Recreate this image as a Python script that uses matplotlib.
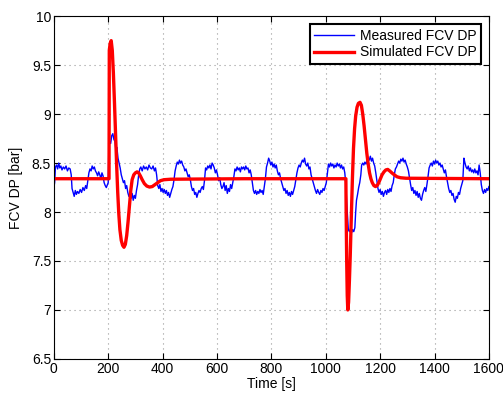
import matplotlib
matplotlib.use('Agg')
import matplotlib.pyplot as plt
from matplotlib.ticker import MultipleLocator, FuncFormatter

plt.rcParams.update({
    "font.family": ["Liberation Sans", "DejaVu Sans"],
    "font.size": 10,
})

# Measured FCV DP
meas_t = [0, 3, 6, 10, 14, 18, 22, 26, 30, 35, 40, 45, 50, 55, 60, 64, 67, 71, 75, 79,
          83, 87, 92, 97, 102, 107, 112, 117, 121, 125, 129, 133, 137, 141, 145, 149, 153, 157, 161, 165,
          169, 173, 177, 181, 185, 189, 193, 197, 200, 202, 205, 209, 213, 217, 221, 225, 228, 232, 236, 240,
          244, 248, 252, 256, 260, 264, 268, 272, 276, 280, 284, 288, 292, 296, 300, 304, 308, 312, 316, 320,
          325, 330, 335, 340, 345, 350, 355, 360, 365, 370, 374, 378, 382, 386, 390, 394, 398, 402, 406, 410,
          414, 418, 422, 426, 430, 434, 438, 442, 446, 450, 454, 458, 462, 466, 470, 474, 478, 482, 486, 490,
          494, 498, 502, 506, 510, 514, 518, 522, 526, 530, 534, 538, 542, 546, 550, 554, 558, 562, 566, 570,
          574, 578, 582, 586, 590, 594, 598, 602, 606, 610, 614, 618, 622, 626, 630, 634, 638, 642, 646, 650,
          654, 658, 662, 666, 670, 674, 678, 682, 686, 690, 694, 698, 702, 706, 710, 714, 718, 722, 726, 730,
          734, 738, 742, 746, 750, 754, 758, 762, 766, 770, 774, 778, 782, 786, 790, 794, 798, 802, 806, 810,
          814, 818, 822, 826, 830, 834, 838, 842, 846, 850, 854, 858, 862, 866, 870, 874, 878, 882, 886, 890,
          894, 898, 902, 906, 910, 914, 918, 922, 926, 930, 934, 938, 942, 946, 950, 954, 958, 962, 966, 970,
          974, 978, 982, 986, 990, 994, 998, 1002, 1006, 1010, 1014, 1018, 1022, 1026, 1030, 1034, 1038, 1042, 1046, 1050,
          1054, 1058, 1062, 1066, 1070, 1074, 1077, 1080, 1083, 1087, 1091, 1095, 1099, 1103, 1107, 1110, 1113, 1117, 1121, 1125,
          1129, 1132, 1136, 1140, 1144, 1148, 1152, 1156, 1160, 1164, 1168, 1172, 1176, 1180, 1184, 1188, 1192, 1196, 1200, 1204,
          1208, 1212, 1216, 1220, 1224, 1228, 1232, 1236, 1240, 1244, 1248, 1252, 1256, 1260, 1264, 1268, 1272, 1276, 1280, 1284,
          1288, 1292, 1296, 1300, 1304, 1308, 1312, 1316, 1320, 1324, 1328, 1332, 1336, 1340, 1344, 1348, 1352, 1356, 1360, 1364,
          1368, 1372, 1376, 1380, 1384, 1388, 1392, 1396, 1400, 1404, 1408, 1412, 1416, 1420, 1424, 1428, 1432, 1436, 1440, 1444,
          1448, 1452, 1456, 1460, 1464, 1468, 1472, 1476, 1480, 1484, 1488, 1492, 1496, 1500, 1504, 1508, 1512, 1516, 1520, 1524,
          1528, 1532, 1536, 1540, 1544, 1548, 1552, 1556, 1560, 1564, 1568, 1572, 1576, 1580, 1584, 1588, 1592, 1596, 1600]
meas_v = [8.25, 8.30, 8.46, 8.48, 8.44, 8.50, 8.45, 8.47, 8.43, 8.46, 8.44, 8.47, 8.42, 8.45, 8.44, 8.38, 8.24, 8.20, 8.16, 8.22,
          8.18, 8.21, 8.19, 8.23, 8.20, 8.25, 8.22, 8.27, 8.24, 8.32, 8.40, 8.44, 8.42, 8.47, 8.44, 8.46, 8.42, 8.40, 8.37, 8.41,
          8.38, 8.34, 8.40, 8.37, 8.30, 8.27, 8.25, 8.28, 8.30, 8.62, 8.72, 8.70, 8.78, 8.80, 8.74, 8.72, 8.64, 8.66, 8.55, 8.50,
          8.45, 8.38, 8.34, 8.30, 8.32, 8.24, 8.27, 8.20, 8.16, 8.18, 8.14, 8.19, 8.12, 8.17, 8.14, 8.22, 8.28, 8.38, 8.44, 8.46,
          8.42, 8.47, 8.44, 8.46, 8.43, 8.48, 8.45, 8.44, 8.47, 8.42, 8.45, 8.38, 8.27, 8.24, 8.28, 8.21, 8.24, 8.20, 8.23, 8.19,
          8.22, 8.17, 8.20, 8.15, 8.19, 8.23, 8.26, 8.33, 8.42, 8.47, 8.51, 8.49, 8.53, 8.50, 8.52, 8.48, 8.46, 8.42, 8.44, 8.40,
          8.36, 8.38, 8.33, 8.26, 8.22, 8.24, 8.18, 8.20, 8.15, 8.19, 8.22, 8.20, 8.24, 8.26, 8.23, 8.32, 8.45, 8.43, 8.47, 8.45,
          8.48, 8.44, 8.50, 8.48, 8.45, 8.40, 8.43, 8.38, 8.32, 8.35, 8.28, 8.24, 8.26, 8.30, 8.22, 8.27, 8.19, 8.24, 8.21, 8.28,
          8.24, 8.30, 8.36, 8.44, 8.42, 8.46, 8.43, 8.45, 8.41, 8.46, 8.44, 8.46, 8.43, 8.47, 8.44, 8.45, 8.40, 8.43, 8.38, 8.30,
          8.22, 8.19, 8.22, 8.18, 8.21, 8.19, 8.23, 8.20, 8.22, 8.18, 8.26, 8.34, 8.46, 8.50, 8.55, 8.52, 8.48, 8.51, 8.46, 8.49,
          8.45, 8.48, 8.42, 8.38, 8.40, 8.34, 8.30, 8.26, 8.22, 8.24, 8.19, 8.22, 8.17, 8.20, 8.16, 8.21, 8.18, 8.22, 8.26, 8.33,
          8.40, 8.45, 8.48, 8.46, 8.50, 8.53, 8.51, 8.55, 8.49, 8.47, 8.50, 8.44, 8.46, 8.38, 8.34, 8.30, 8.26, 8.22, 8.19, 8.23,
          8.20, 8.18, 8.22, 8.20, 8.24, 8.22, 8.26, 8.30, 8.40, 8.49, 8.46, 8.50, 8.47, 8.49, 8.45, 8.48, 8.46, 8.50, 8.47, 8.49,
          8.45, 8.48, 8.44, 8.46, 8.40, 8.28, 8.10, 7.95, 7.82, 7.80, 7.83, 7.79, 7.82, 7.80, 7.84, 8.00, 8.12, 8.18, 8.25, 8.30,
          8.38, 8.48, 8.50, 8.48, 8.51, 8.49, 8.52, 8.55, 8.53, 8.57, 8.52, 8.55, 8.50, 8.47, 8.40, 8.32, 8.24, 8.20, 8.23, 8.18,
          8.21, 8.16, 8.20, 8.22, 8.18, 8.23, 8.20, 8.24, 8.21, 8.27, 8.30, 8.38, 8.44, 8.46, 8.49, 8.52, 8.50, 8.54, 8.52, 8.55,
          8.51, 8.53, 8.49, 8.46, 8.42, 8.35, 8.28, 8.22, 8.25, 8.19, 8.22, 8.17, 8.21, 8.15, 8.19, 8.14, 8.12, 8.18, 8.22, 8.25,
          8.21, 8.28, 8.36, 8.45, 8.48, 8.50, 8.47, 8.52, 8.49, 8.53, 8.50, 8.52, 8.48, 8.50, 8.46, 8.48, 8.44, 8.40, 8.43, 8.36,
          8.30, 8.24, 8.20, 8.22, 8.17, 8.19, 8.13, 8.10, 8.16, 8.14, 8.20, 8.18, 8.24, 8.28, 8.32, 8.55, 8.50, 8.46, 8.44, 8.47,
          8.42, 8.45, 8.41, 8.43, 8.40, 8.44, 8.40, 8.42, 8.38, 8.48, 8.40, 8.28, 8.22, 8.19, 8.23, 8.20, 8.24, 8.22, 8.26]

# Simulated FCV DP
sim_t = [0, 200, 203, 204, 207, 211, 215, 219, 223, 227, 231, 235, 239, 243, 248, 253, 258, 263, 268, 273,
         278, 283, 288, 294, 300, 306, 312, 318, 325, 333, 342, 352, 362, 372, 382, 392, 405, 430, 700, 1074,
         1075, 1077, 1079, 1081, 1084, 1087, 1090, 1094, 1098, 1102, 1106, 1110, 1115, 1120, 1126, 1131, 1136, 1141, 1146, 1151,
         1156, 1161, 1166, 1171, 1177, 1183, 1189, 1195, 1201, 1207, 1214, 1221, 1228, 1235, 1243, 1252, 1262, 1275, 1295, 1600]
sim_v = [8.34, 8.34, 8.34, 9.65, 9.72, 9.75, 9.65, 9.42, 9.12, 8.80, 8.48, 8.20, 7.98, 7.82, 7.71, 7.66, 7.64, 7.67, 7.76, 7.90,
         8.06, 8.22, 8.33, 8.38, 8.40, 8.41, 8.40, 8.37, 8.33, 8.29, 8.265, 8.255, 8.26, 8.28, 8.30, 8.32, 8.33, 8.335, 8.34, 8.34,
         8.0, 7.5, 7.15, 7.0, 7.08, 7.3, 7.55, 7.95, 8.34, 8.65, 8.85, 8.98, 9.07, 9.11, 9.12, 9.09, 9.00, 8.88, 8.74, 8.60,
         8.49, 8.40, 8.34, 8.30, 8.27, 8.26, 8.27, 8.30, 8.34, 8.38, 8.41, 8.43, 8.435, 8.42, 8.40, 8.38, 8.36, 8.35, 8.345, 8.34]

fig = plt.figure(figsize=(5.03, 3.94), dpi=100)
ax = fig.add_axes([0.107, 0.089, 0.865, 0.87])

ax.plot(meas_t, meas_v, color='blue', linewidth=1.0, label='Measured FCV DP')
ax.plot(sim_t, sim_v, color='red', linewidth=2.4, label='Simulated FCV DP')

ax.set_xlim(0, 1600)
ax.set_ylim(6.5, 10)
ax.xaxis.set_major_locator(MultipleLocator(200))
ax.yaxis.set_major_locator(MultipleLocator(0.5))
ax.yaxis.set_major_formatter(FuncFormatter(lambda v, p: f'{v:g}'))

# MATLAB style dotted grid
ax.grid(True, linestyle=(0, (1, 3.5)), color='#999999', linewidth=0.8)
ax.tick_params(direction='in', length=4, width=0.8, top=True, right=True, pad=2)
for s in ax.spines.values():
    s.set_linewidth(0.8)

ax.set_xlabel('Time [s]', labelpad=1)
ax.set_ylabel('FCV DP [bar]', labelpad=6)

leg = ax.legend(loc='upper right', fancybox=False, framealpha=1, edgecolor='black',
                handlelength=2.9, borderaxespad=0.6, borderpad=0.3, labelspacing=0.2,
                handletextpad=0.4)
leg.get_frame().set_linewidth(1.5)

fig.savefig('out.png', dpi=100)
